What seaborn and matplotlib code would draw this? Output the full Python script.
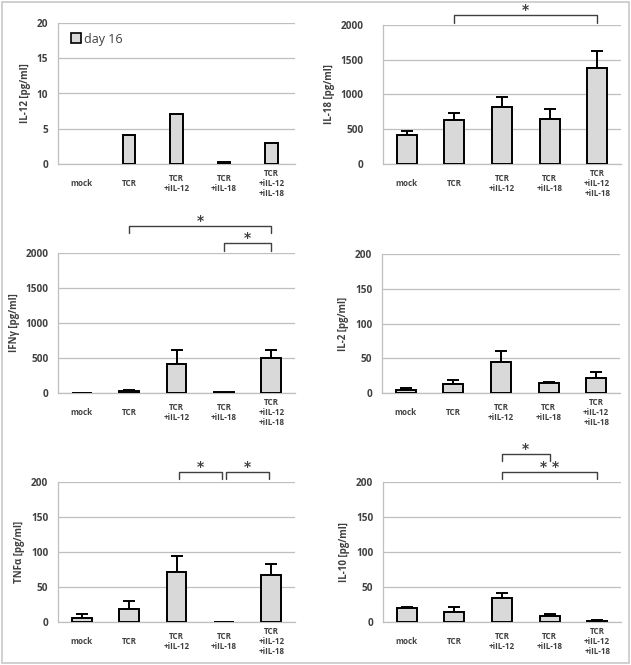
import matplotlib
matplotlib.use("Agg")
import matplotlib.pyplot as plt
import seaborn as sns
import numpy as np
import pandas as pd
from matplotlib.patches import Rectangle
from matplotlib.lines import Line2D

sns.set_theme(style="white")
plt.rcParams['font.family'] = ['Open Sans', 'DejaVu Sans']

categories = ["mock", "TCR", "TCR\n+iIL-12", "TCR\n+iIL-18", "TCR\n+iIL-12\n+iIL-18"]

il12 = [0.0, 4.1, 7.1, 0.35, 3.0]
il12_err = [0, 0, 0, 0, 0]
il18 = [420, 640, 820, 650, 1380]
il18_err = [50, 90, 140, 140, 240]
ifng = [5, 25, 420, 15, 500]
ifng_err = [0, 15, 190, 0, 120]
il2 = [5, 13, 45, 14, 21]
il2_err = [2, 5, 15, 2, 9]
tnfa = [6, 18, 72, 0.5, 67]
tnfa_err = [5, 12, 23, 0, 16]
il10 = [20, 15, 35, 8, 2]
il10_err = [2, 6, 7, 3, 1.5]

panels = [
    dict(vals=il12, err=il12_err, ylabel="IL-12 [pg/ml]", ymax=20, step=5, width=0.27,
         pos=(58, 295, 23, 164), brackets=[], ypad=7),
    dict(vals=il18, err=il18_err, ylabel="IL-18 [pg/ml]", ymax=2000, step=500, width=0.42,
         pos=(383, 621, 25, 164), brackets=[(1, 4, 15, 23, "*")], ypad=14),
    dict(vals=ifng, err=ifng_err, ylabel="IFNγ [pg/ml]", ymax=2000, step=500, width=0.42,
         pos=(58, 295, 253, 393), brackets=[(1, 4, 226, 233, "*"), (3, 4, 243, 251, "*")], ypad=7),
    dict(vals=il2, err=il2_err, ylabel="IL-2 [pg/ml]", ymax=200, step=50, width=0.42,
         pos=(382, 620, 254, 393), brackets=[], ypad=7),
    dict(vals=tnfa, err=tnfa_err, ylabel="TNFα [pg/ml]", ymax=200, step=50, width=0.42,
         pos=(58, 295, 482, 622), brackets=[(2.05, 2.95, 472, 479, "*"), (3.05, 3.95, 472, 479, "*")], ypad=7),
    dict(vals=il10, err=il10_err, ylabel="IL-10 [pg/ml]", ymax=200, step=50, width=0.42,
         pos=(383, 621, 482, 622), brackets=[(2, 3, 454, 461, "*"), (2, 4, 472, 479, "* *")], ypad=7),
]

W, H = 631, 665
fig = plt.figure(figsize=(W / 100, H / 100), dpi=100)
fig.patches.append(Rectangle((2 / W, 2 / H), 1 - 4 / W, 1 - 4 / H, transform=fig.transFigure,
                             fill=False, edgecolor="#c8c8c8", linewidth=1.2))

txt = "#404040"
grid = "#bfbfbf"

for p in panels:
    x0, x1, ytop, ybot = p["pos"]
    ax = fig.add_axes([x0 / W, 1 - ybot / H, (x1 - x0) / W, (ybot - ytop) / H])
    df = pd.DataFrame({"cat": categories, "val": p["vals"]})
    sns.barplot(data=df, x="cat", y="val", ax=ax, color="#d9d9d9", saturation=1,
                width=p["width"], edgecolor="black", linewidth=1.4, errorbar=None, zorder=3)
    for patch in ax.patches:
        if patch.get_height() == 0:
            patch.set_visible(False)
    err = np.array(p["err"], dtype=float)
    xs = np.arange(len(categories))
    mask = err > 0
    if mask.any():
        ax.errorbar(xs[mask], np.array(p["vals"])[mask], yerr=[np.zeros(mask.sum()), err[mask]],
                    fmt="none", ecolor="black", elinewidth=1.4, capsize=4, capthick=1.4, zorder=2)
    ax.set_xlim(-0.5, 4.5)
    ax.set_ylim(0, p["ymax"])
    ax.set_yticks(np.arange(0, p["ymax"] + 1, p["step"]))
    ax.yaxis.grid(True, color=grid, linewidth=0.9)
    ax.set_axisbelow(True)
    for s in ["top", "right"]:
        ax.spines[s].set_visible(False)
    ax.spines["left"].set_color(grid)
    ax.spines["bottom"].set_color(grid)
    ax.spines["left"].set_linewidth(0.9)
    ax.spines["bottom"].set_linewidth(0.9)
    ax.set_xlabel("")
    ax.set_ylabel(p["ylabel"], fontsize=7, color=txt, fontweight="bold", labelpad=4)
    ax.tick_params(axis="y", length=0, labelsize=7.2, labelcolor=txt, pad=p["ypad"])
    ax.tick_params(axis="x", length=0, labelsize=5.8, labelcolor=txt, pad=14)
    for lab in ax.get_yticklabels():
        lab.set_fontweight("bold")
    for lab in ax.get_xticklabels():
        lab.set_fontweight("bold")
        lab.set_verticalalignment("center")
        lab.set_linespacing(1.2)
    for (a, b, yl, yt, star) in p["brackets"]:
        yline = 1 - (yl - ytop) / (ybot - ytop)
        ytick = 1 - (yt - ytop) / (ybot - ytop)
        trans = ax.get_xaxis_transform()
        ax.add_line(Line2D([a, a, b, b], [ytick, yline, yline, ytick], transform=trans,
                           color=txt, linewidth=1.0, clip_on=False))
        ax.text((a + b) / 2, yline - 0.015, star, transform=trans, ha="center", va="bottom",
                fontsize=10, fontweight="bold", color=txt, clip_on=False,
                family=["DejaVu Sans"])
    if p["ylabel"].startswith("IL-12"):
        h = Line2D([], [], marker="s", linestyle="none", markersize=7,
                   markerfacecolor="#d9d9d9", markeredgecolor="black", markeredgewidth=1.2)
        leg = ax.legend([h], ["day 16"], loc="upper left", bbox_to_anchor=(0.02, 0.985),
                        frameon=False, fontsize=9, handletextpad=0.1, borderaxespad=0.2,
                        handlelength=1.0)
        for t in leg.get_texts():
            t.set_color(txt)

fig.savefig("out.png", dpi=100)
